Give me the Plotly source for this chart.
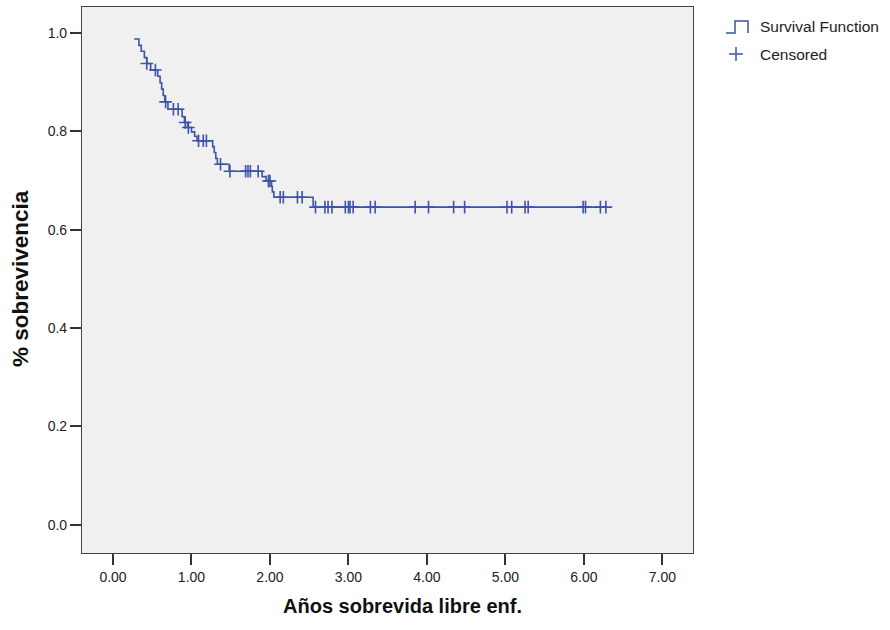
import numpy as np
import plotly.graph_objects as go

# Step points of the survival function (time in years, survival proportion after the step)
step_times = [0.27, 0.33, 0.36, 0.40, 0.43, 0.48, 0.57, 0.60, 0.62, 0.64, 0.66, 0.70,
              0.88, 0.91, 0.95, 1.00, 1.04, 1.07, 1.27, 1.29, 1.31, 1.33, 1.48,
              1.90, 1.95, 2.02, 2.03, 2.05, 2.55]
survival = [0.988, 0.975, 0.963, 0.950, 0.938, 0.925, 0.912, 0.899, 0.886, 0.873, 0.860, 0.845,
            0.830, 0.818, 0.808, 0.799, 0.790, 0.781, 0.769, 0.757, 0.745, 0.733, 0.719,
            0.708, 0.699, 0.688, 0.677, 0.666, 0.646]
end_time = 6.28

# Censored observation times
censor_times = [0.43, 0.54, 0.67, 0.77, 0.83, 0.92, 0.96, 1.09, 1.15, 1.19, 1.37, 1.49,
                1.69, 1.72, 1.75, 1.85, 1.98, 2.00, 2.13, 2.17, 2.35, 2.41, 2.58,
                2.70, 2.74, 2.79, 2.96, 3.00, 3.02, 3.06, 3.28, 3.34, 3.85, 4.02,
                4.34, 4.48, 5.02, 5.08, 5.25, 5.29, 5.99, 6.02, 6.21, 6.28]

x_ticks = [0, 1, 2, 3, 4, 5, 6, 7]
x_ticktext = ["0.00", "1.00", "2.00", "3.00", "4.00", "5.00", "6.00", "7.00"]
y_ticks = [0.0, 0.2, 0.4, 0.6, 0.8, 1.0]
y_ticktext = ["0.0", "0.2", "0.4", "0.6", "0.8", "1.0"]

BLUE = "#3D53A8"

line_x = step_times + [end_time]
line_y = survival + [survival[-1]]

idx = np.searchsorted(np.array(step_times), np.array(censor_times), side="right") - 1
censor_y = [survival[i] for i in idx]

fig = go.Figure()
fig.add_trace(go.Scatter(x=line_x, y=line_y, mode="lines", line=dict(color=BLUE, width=1.6, shape="hv"),
                         showlegend=False, hoverinfo="skip"))
fig.add_trace(go.Scatter(x=censor_times, y=censor_y, mode="markers",
                         marker=dict(symbol="cross-thin", size=9, line=dict(color=BLUE, width=1.6)),
                         showlegend=False, hoverinfo="skip"))

W, H = 890, 630
L, R, T, B = 82, 693, 7, 553


def px(xp):
    return (xp - L) / (R - L)


def py(yp):
    return (B - yp) / (B - T)


shapes = [
    dict(type="path", xref="paper", yref="paper",
         path=f"M {px(726)} {py(33)} L {px(735)} {py(33)} L {px(735)} {py(21)} L {px(748)} {py(21)} L {px(748)} {py(33)}",
         line=dict(color=BLUE, width=1.5)),
    dict(type="line", xref="paper", yref="paper", x0=px(729), x1=px(743), y0=py(54), y1=py(54),
         line=dict(color=BLUE, width=1.5)),
    dict(type="line", xref="paper", yref="paper", x0=px(736), x1=px(736), y0=py(47), y1=py(61),
         line=dict(color=BLUE, width=1.5)),
]

font_txt = "Liberation Sans, Arial, sans-serif"
annotations = [
    dict(text="Survival Function", xref="paper", yref="paper", x=px(758), y=py(27),
         xanchor="left", yanchor="middle", showarrow=False, font=dict(family=font_txt, size=15.5, color="#222")),
    dict(text="Censored", xref="paper", yref="paper", x=px(758), y=py(54),
         xanchor="left", yanchor="middle", showarrow=False, font=dict(family=font_txt, size=15.5, color="#222")),
    dict(text="<b>Años sobrevida libre enf.</b>", xref="paper", yref="paper", x=px(402), y=py(606),
         xanchor="center", yanchor="middle", showarrow=False, font=dict(family=font_txt, size=20, color="#111")),
    dict(text="<b>% sobrevivencia</b>", xref="paper", yref="paper", x=px(20), y=py(279),
         xanchor="center", yanchor="middle", textangle=-90, showarrow=False,
         font=dict(family=font_txt, size=22.5, color="#111")),
]

fig.update_layout(
    width=W, height=H,
    margin=dict(l=L, r=W - R, t=T, b=H - B, pad=0),
    paper_bgcolor="white", plot_bgcolor="#F0F0F0",
    shapes=shapes, annotations=annotations,
    showlegend=False,
    xaxis=dict(range=[-0.395, 7.39], tickvals=x_ticks, ticktext=x_ticktext, ticks="outside",
               ticklen=11, tickwidth=1.5, tickcolor="#333", showline=True, mirror=True,
               linecolor="#444", linewidth=1.2, showgrid=False, zeroline=False,
               tickfont=dict(family=font_txt, size=14, color="#222")),
    yaxis=dict(range=[-0.0576, 1.053], tickvals=y_ticks, ticktext=y_ticktext, ticks="outside",
               ticklen=11, tickwidth=1.5, tickcolor="#333", showline=True, mirror=True,
               linecolor="#444", linewidth=1.2, showgrid=False, zeroline=False,
               tickfont=dict(family=font_txt, size=14, color="#222")),
)

fig.write_html("out.html")
